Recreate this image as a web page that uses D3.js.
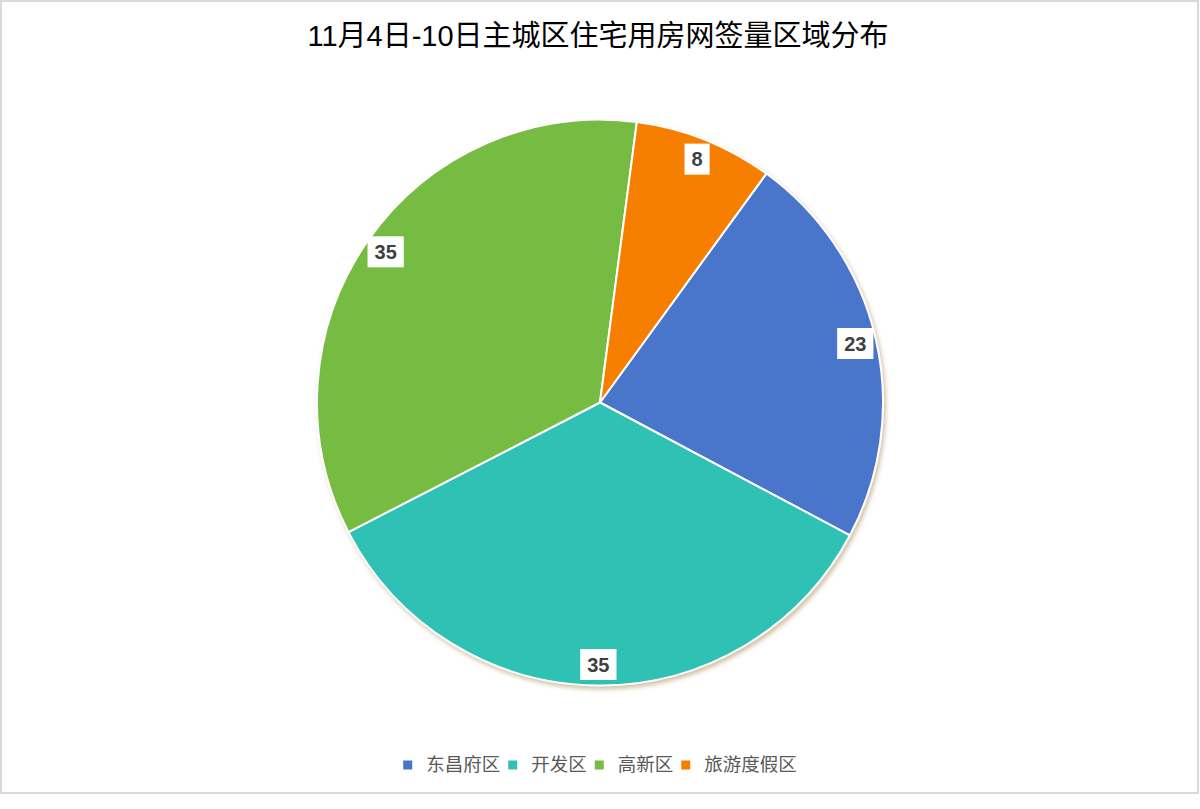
<!DOCTYPE html>
<html>
<head>
<meta charset="utf-8">
<script src="https://cdn.jsdelivr.net/npm/d3@7"></script>
<style>
  html, body { margin: 0; padding: 0; background: #fff; }
  svg { display: block; font-family: "Liberation Sans", Arial, "Noto Sans CJK SC", sans-serif; }
</style>
</head>
<body>
<div id="chart"></div>
<script>
// chart data
const titleText = "11月4日-10日主城区住宅用房网签量区域分布";
const districts = ["东昌府区", "开发区", "高新区", "旅游度假区"];
const counts = [23, 35, 35, 8];
const colors = ["#4874CB", "#2FC1B4", "#77BC43", "#F77F00"];

const width = 1200, height = 809;
const cx = 600, cy = 402.5, radius = 283;

const svg = d3.select("#chart")
  .append("svg")
  .attr("width", width)
  .attr("height", height);

// soft shadow under the pie
const defs = svg.append("defs");
const shadow = defs.append("filter")
  .attr("id", "pieShadow")
  .attr("x", "-10%").attr("y", "-10%")
  .attr("width", "120%").attr("height", "120%");
shadow.append("feDropShadow")
  .attr("dx", 2).attr("dy", 3)
  .attr("stdDeviation", 2)
  .attr("flood-color", "#9c7a3c")
  .attr("flood-opacity", 0.45);

// outer frame
svg.append("rect")
  .attr("x", 1).attr("y", 1)
  .attr("width", 1197).attr("height", 792)
  .attr("fill", "#fff")
  .attr("stroke", "#d9d9d9")
  .attr("stroke-width", 2);

// title
svg.append("text")
  .attr("x", 598)
  .attr("y", 46)
  .attr("text-anchor", "middle")
  .style("font-size", "29px")
  .style("fill", "#000")
  .text(titleText);

const data = districts.map((name, i) => ({ name: name, value: counts[i], color: colors[i] }));

const startAngle = 36 * Math.PI / 180;
const pie = d3.pie()
  .sort(null)
  .value(d => d.value)
  .startAngle(startAngle)
  .endAngle(startAngle + 2 * Math.PI);

const arcs = pie(data);
const arc = d3.arc().innerRadius(0).outerRadius(radius);

const g = svg.append("g")
  .attr("transform", `translate(${cx},${cy})`);

g.append("g")
  .attr("filter", "url(#pieShadow)")
  .selectAll("path")
  .data(arcs)
  .enter()
  .append("path")
  .attr("d", arc)
  .attr("fill", d => d.data.color)
  .attr("stroke", "#fff")
  .attr("stroke-width", 2)
  .attr("stroke-linejoin", "round");

// value labels, white boxes near the outer edge
const labelArc = d3.arc().innerRadius(262).outerRadius(262);
const labels = g.selectAll("g.lbl")
  .data(arcs)
  .enter()
  .append("g")
  .attr("class", "lbl")
  .attr("transform", d => `translate(${labelArc.centroid(d)})`);

labels.append("text")
  .attr("text-anchor", "middle")
  .attr("dy", "0.36em")
  .style("font-size", "20px")
  .style("font-weight", "bold")
  .style("fill", "#404040")
  .text(d => d.data.value);

labels.each(function() {
  const grp = d3.select(this);
  const bb = grp.select("text").node().getBBox();
  const padX = 7;
  grp.insert("rect", "text")
    .attr("x", bb.x - padX)
    .attr("y", -15.5)
    .attr("width", bb.width + padX * 2)
    .attr("height", 31)
    .attr("fill", "#fff");
});

// legend
const legend = svg.append("g");
const items = legend.selectAll("g")
  .data(data)
  .enter()
  .append("g");

items.append("rect")
  .attr("width", 9)
  .attr("height", 9)
  .attr("y", -4.5)
  .attr("fill", d => d.color);

items.append("text")
  .attr("x", 23)
  .attr("dy", "0.35em")
  .style("font-size", "18.5px")
  .style("fill", "#595959")
  .text(d => d.name);

let xpos = 0;
items.each(function() {
  const it = d3.select(this);
  const w = it.select("text").node().getComputedTextLength();
  it.attr("transform", `translate(${xpos},0)`);
  xpos += 23 + w + 8;
});
const totalW = xpos - 8;
legend.attr("transform", `translate(${600 - totalW / 2},765)`);
</script>
</body>
</html>
